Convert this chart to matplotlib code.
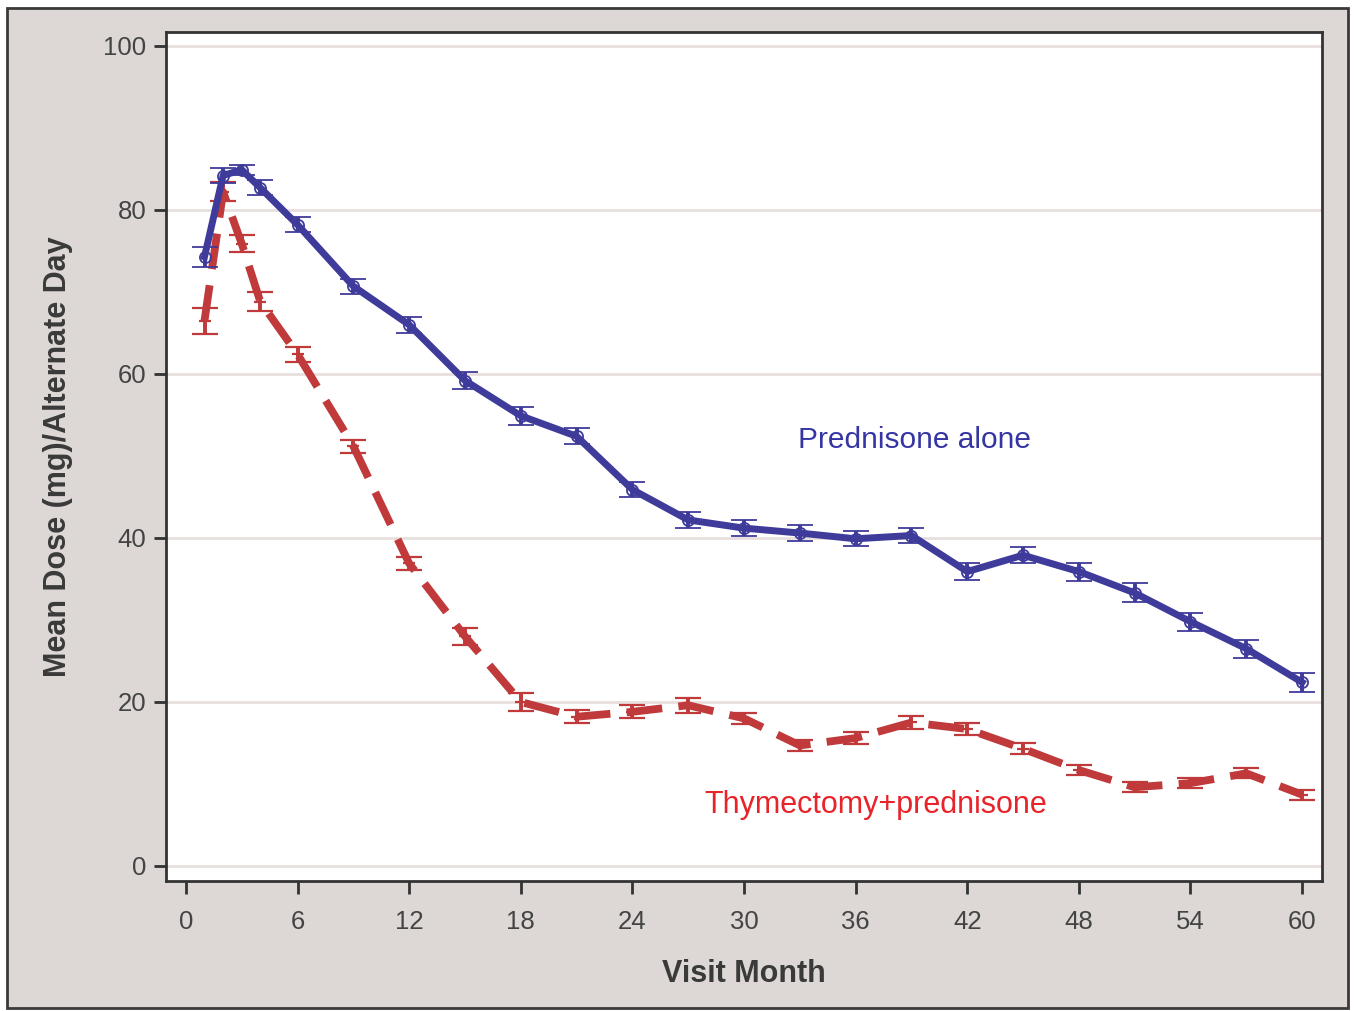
import matplotlib
matplotlib.use("Agg")
import matplotlib.pyplot as plt
from matplotlib.patches import Rectangle

plt.rcParams['font.family'] = ['Liberation Sans', 'DejaVu Sans']

months = [1, 2, 3, 4, 6, 9, 12, 15, 18, 21, 24, 27, 30, 33, 36, 39, 42, 45, 48, 51, 54, 57, 60]
pred_mean = [74.3, 84.2, 84.9, 82.7, 78.2, 70.7, 66.0, 59.2, 54.9, 52.4, 45.9, 42.2, 41.2,
             40.6, 39.9, 40.3, 35.9, 37.9, 35.9, 33.3, 29.8, 26.5, 22.4]
pred_err = [1.2, 0.9, 0.6, 0.9, 0.9, 0.9, 1.0, 1.0, 1.1, 1.0, 0.9, 1.0, 1.0,
            1.0, 0.9, 0.9, 1.0, 1.0, 1.1, 1.15, 1.1, 1.1, 1.15]
thym_mean = [66.5, 82.2, 75.9, 68.8, 62.4, 51.2, 36.9, 28.0, 20.0, 18.2, 18.8, 19.6, 18.0,
             14.7, 15.6, 17.5, 16.7, 14.3, 11.7, 9.6, 10.1, 11.3, 8.7]
thym_err = [1.6, 1.15, 1.0, 1.15, 0.9, 0.8, 0.8, 1.0, 1.1, 0.8, 0.8, 0.9, 0.7,
            0.7, 0.7, 0.8, 0.7, 0.7, 0.6, 0.6, 0.6, 0.6, 0.6]
x_ticks = [0, 6, 12, 18, 24, 30, 36, 42, 48, 54, 60]
y_ticks = [0, 20, 40, 60, 80, 100]

blue = '#3f3b9b'
red = '#c0393b'
bg = '#ddd8d5'

fig = plt.figure(figsize=(13.55, 10.11), dpi=100)
fig.patch.set_facecolor('white')
fig.patches.append(Rectangle((7.5 / 1355, 3 / 1011), 1340 / 1355, 1000 / 1011,
                             transform=fig.transFigure, facecolor=bg,
                             edgecolor='#3a3a3a', linewidth=2.0, zorder=-10))

ax = fig.add_axes([166 / 1355, 1 - 881 / 1011, (1322 - 166) / 1355, (881 - 32) / 1011])
ax.set_facecolor('white')

ax.errorbar(months, pred_mean, yerr=pred_err, color=blue, linewidth=5.0,
            marker='o', markersize=8, markerfacecolor='none', markeredgecolor=blue,
            markeredgewidth=1.3, ecolor=blue, elinewidth=2.8, capsize=9.5, capthick=3.2,
            zorder=4)
ax.errorbar(months, thym_mean, yerr=thym_err, color=red, linewidth=5.6,
            linestyle=(0, (4.6, 2.1)), marker='+', markersize=9,
            markeredgecolor=red, markeredgewidth=1.6, ecolor=red, elinewidth=2.8,
            capsize=9.5, capthick=3.2, zorder=3)

ax.text(32.9, 52.0, 'Prednisone alone', color='#3535a3', fontsize=21.5,
        ha='left', va='center')
ax.text(27.85, 7.4, 'Thymectomy+prednisone', color='#e8232a', fontsize=22,
        ha='left', va='center')

ax.set_xlim(-1.07, 61.07)
ax.set_ylim(-1.83, 101.7)
ax.set_xticks(x_ticks)
ax.set_yticks(y_ticks)
ax.grid(axis='y', color='#e8dede', linewidth=2.0, zorder=0)
ax.set_axisbelow(True)

for s in ax.spines.values():
    s.set_color('#333333')
    s.set_linewidth(2.0)

ax.tick_params(axis='both', direction='out', length=9, width=2.0, color='#333333',
               labelsize=18.5, labelcolor='#444444')
ax.tick_params(axis='x', pad=12)
ax.tick_params(axis='y', pad=5)

ax.set_xlabel('Visit Month', fontsize=22, fontweight='bold', color='#3a3a3a', labelpad=18)
ax.set_ylabel('Mean Dose (mg)/Alternate Day', fontsize=22, fontweight='bold',
              color='#3a3a3a', labelpad=22)

fig.savefig('out.png', dpi=100, facecolor=fig.get_facecolor())
